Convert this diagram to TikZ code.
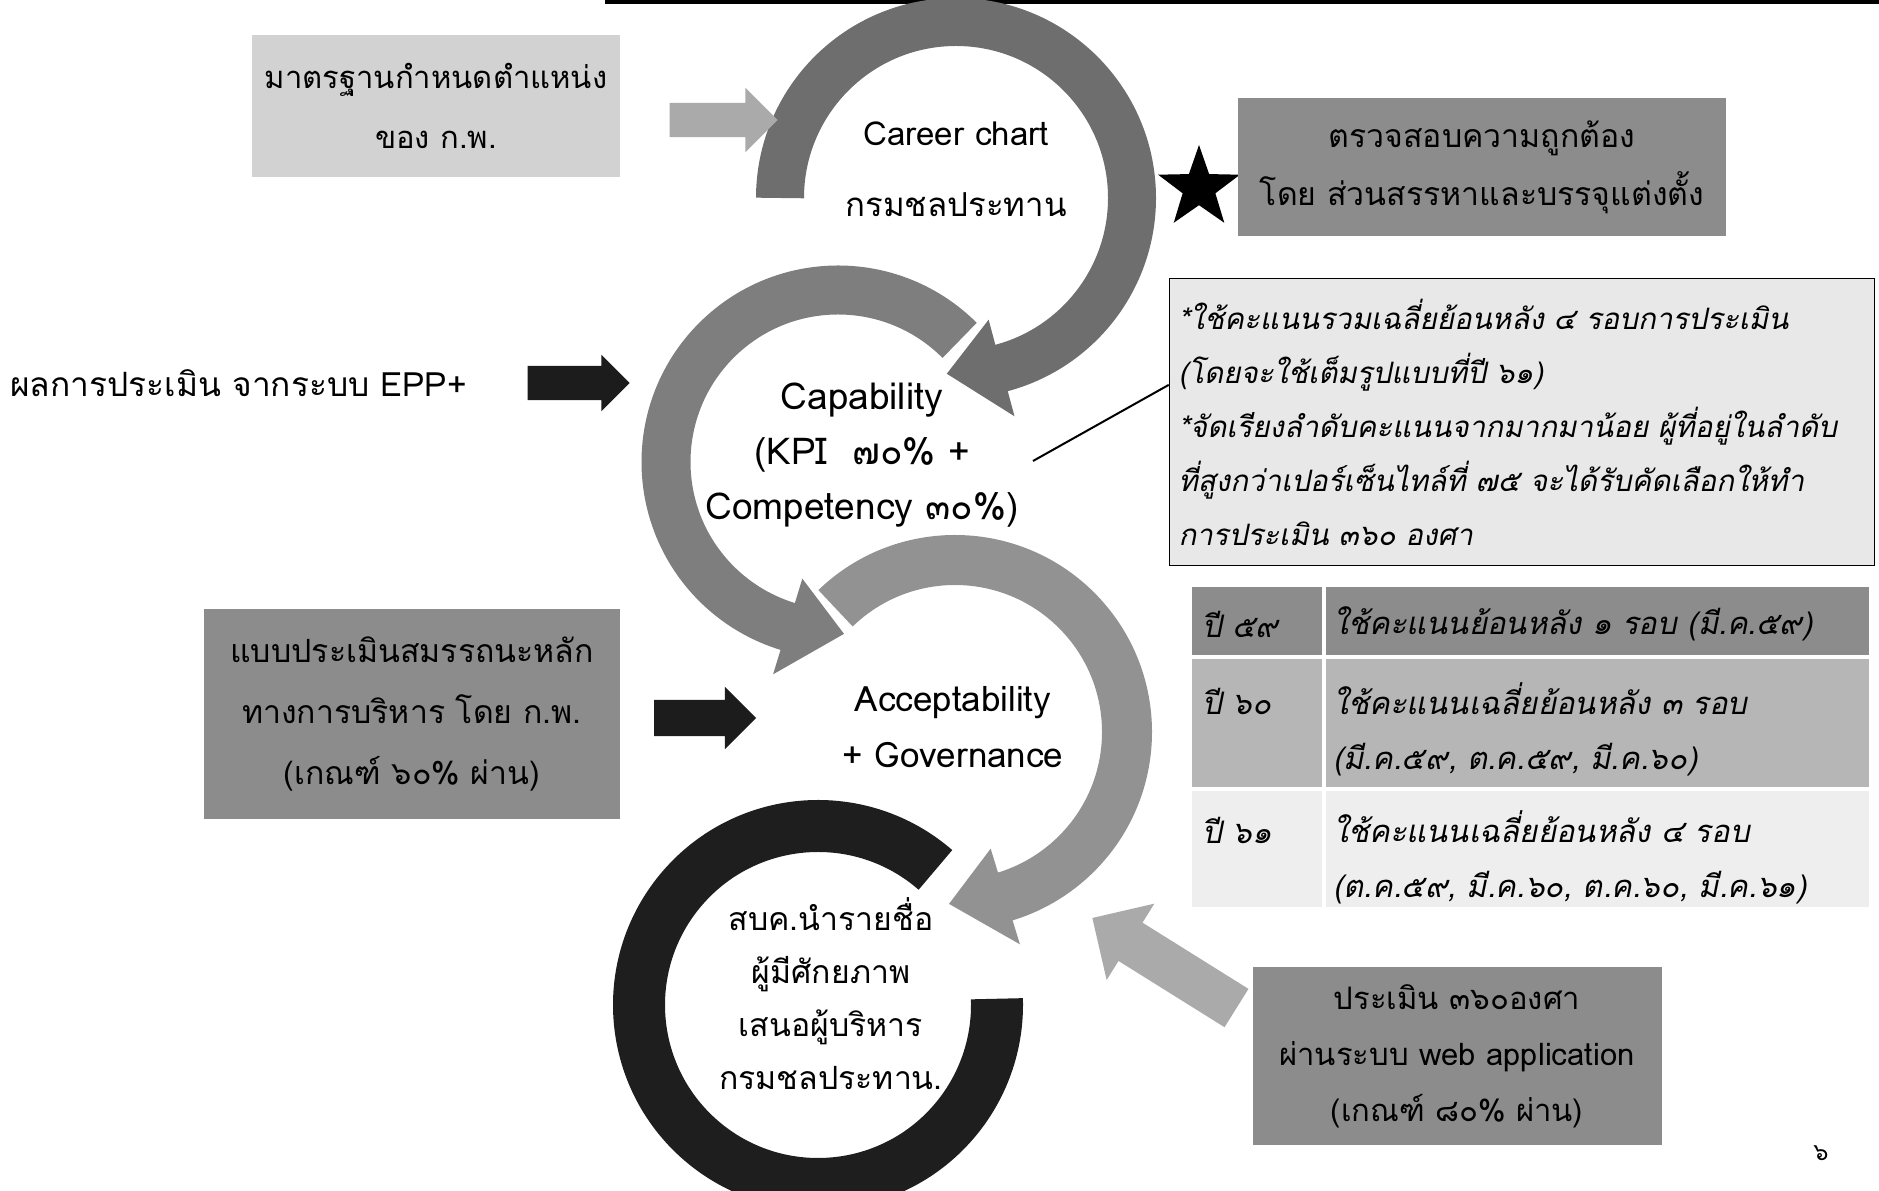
\documentclass[tikz,border=0pt]{standalone}
\usepackage{fontspec}
\usepackage{tikz}
\usetikzlibrary{shapes.geometric, shapes.arrows, positioning, calc}
\newfontfamily\thai[Script=Thai]{Loma}
\newfontfamily\thaiit[Script=Thai,FakeSlant=0.2]{Loma}
\definecolor{ringone}{HTML}{6E6E6E}
\definecolor{ringtwo}{HTML}{7E7E7E}
\definecolor{ringthree}{HTML}{929292}
\definecolor{ringfour}{HTML}{1E1E1E}
\definecolor{boxdark}{HTML}{8C8C8C}
\definecolor{boxmid}{HTML}{B6B6B6}
\definecolor{boxlight}{HTML}{D2D2D2}
\definecolor{boxpale}{HTML}{E8E8E8}
\definecolor{rowpale}{HTML}{EEEEEE}
\definecolor{arrowlight}{HTML}{AAAAAA}
\definecolor{arrowdark}{HTML}{1C1C1C}

\begin{document}
\begin{tikzpicture}[
    x=1pt, y=1pt,
    ring/.style={line width=50pt, color=#1},
    panel/.style={fill=#1, inner sep=0pt, align=center, font=\thai\fontsize{31}{60}\selectfont},
    cell/.style={fill=#1, inner sep=0pt},
    blockarrow/.style={single arrow, fill=#1, inner xsep=0pt, single arrow tip angle=90},
    circtext/.style={font=\thai\fontsize{33}{56}\selectfont, align=center, inner sep=0pt},
    tabtext/.style={font=\thaiit\fontsize{31}{55}\selectfont, align=left, inner sep=0pt, anchor=west}
]
\useasboundingbox (0,0) rectangle (1879,1191);

% Page rule
\draw[line width=4pt] (605,1189) -- (1879,1189);

% Circular arrows
\coordinate (o1) at (956,993);
\coordinate (o2) at (838,729);
\coordinate (o3) at (955,459);
\coordinate (o4) at (818,186);

\draw[ring=ringfour, line width=52pt, shift={(o4)}] (49:179) arc[start angle=49, end angle=362, radius=179pt];

\draw[ring=ringthree, shift={(o3)}] (134:172) arc[start angle=134, end angle=-74, radius=172pt];
\fill[ringthree, shift={(o3)}] (-73:122) -- (-92:172) -- (-73:222) -- cycle;

\draw[ring=ringtwo, line width=49pt, shift={(o2)}] (45:172) arc[start angle=45, end angle=254, radius=172pt];
\fill[ringtwo, shift={(o2)}] (253:122) -- (272:172) -- (253:222) -- cycle;

\draw[ring=ringone, line width=48pt, shift={(o1)}] (180:176) arc[start angle=180, end angle=-76, radius=176pt];
\fill[ringone, shift={(o1)}] (-75:126) -- (-93:176) -- (-75:226) -- cycle;

% Texts in the circles
\node[circtext] (career) at (956,1022) {Career chart\\[15pt]กรมชลประทาน};
\node[circtext, font=\thai\fontsize{37}{55}\selectfont] (capab) at (862,736) {Capability\\(KPI ~๗๐\% +\\Competency ๓๐\%)};
\node[circtext, font=\thai\fontsize{35}{56}\selectfont] (accept) at (953,464) {Acceptability\\+ Governance};
\node[circtext, font=\thai\fontsize{32}{53}\selectfont] (shortlist) at (831,197) {สบค.นำรายชื่อ\\ผู้มีศักยภาพ\\เสนอผู้บริหาร\\กรมชลประทาน.};

% Input boxes
\node[panel=boxlight, minimum width=368pt, minimum height=142pt] (kpstd) at (436,1085) {มาตรฐานกำหนดตำแหน่ง\\ของ ก.พ.};
\node[font=\thai\fontsize{33.5}{34}\selectfont, anchor=west, inner sep=0pt] (epp) at (10,808) {ผลการประเมิน จากระบบ EPP+};
\node[panel=boxdark, font=\thai\fontsize{32}{61}\selectfont, minimum width=416pt, minimum height=210pt] (core) at (412,477) {แบบประเมินสมรรถนะหลัก\\ทางการบริหาร โดย ก.พ.\\(เกณฑ์ ๖๐\% ผ่าน)};
\node[panel=boxdark, font=\thai\fontsize{31}{56}\selectfont, minimum width=409pt, minimum height=178pt] (web) at (1457,135) {ประเมิน ๓๖๐องศา\\ผ่านระบบ web application\\(เกณฑ์ ๘๐\% ผ่าน)};

% Block arrows
\node[blockarrow=arrowlight, inner ysep=17pt, minimum height=108pt, minimum width=64pt, single arrow head extend=15pt] (arrcareer) at (715,1071) {};
\node[blockarrow=arrowdark, inner ysep=17pt, minimum height=102pt, minimum width=56pt, single arrow head extend=11pt] (arrepp) at (570,808) {};
\node[blockarrow=arrowdark, inner ysep=18pt, minimum height=102pt, minimum width=62pt, single arrow head extend=13pt] (arrcore) at (696,473) {};
\node[blockarrow=arrowlight, inner ysep=22pt, rotate=148, minimum height=170pt, minimum width=90pt, single arrow head extend=22pt] (arrweb) at (1174,222) {};

% Check
\node[star, star points=5, star point ratio=2.5, fill=black, minimum size=86pt, inner sep=0pt] (star) at (1199,1003) {};
\node[panel=boxdark, font=\thai\fontsize{32}{58}\selectfont, minimum width=488pt, minimum height=138pt] (verify) at (1482,1024) {ตรวจสอบความถูกต้อง\\โดย ส่วนสรรหาและบรรจุแต่งตั้ง};

% Note on capability
\node[draw=black, line width=1.5pt, fill=boxpale, minimum width=705pt, minimum height=287pt, text width=687pt, inner xsep=9pt, align=left, font=\thaiit\fontsize{29.5}{54}\selectfont] (note) at (1522,769) {*ใช้คะแนนรวมเฉลี่ยย้อนหลัง ๔ รอบการประเมิน\\(โดยจะใช้เต็มรูปแบบที่ปี ๖๑)\\{*}จัดเรียงลำดับคะแนนจากมากมาน้อย ผู้ที่อยู่ในลำดับ\\ที่สูงกว่าเปอร์เซ็นไทล์ที่ ๗๕ จะได้รับคัดเลือกให้ทำ\\การประเมิน ๓๖๐ องศา};
\coordinate (kpiend) at (1033,730);
\draw[line width=2pt] (kpiend) -- (note.174);

% Table of years
\node[cell=boxdark, minimum width=130pt, minimum height=68pt] (y59) at (1257,570) {};
\node[cell=boxdark, minimum width=543pt, minimum height=68pt] (u59) at (1597.5,570) {};
\node[cell=boxmid, minimum width=130pt, minimum height=128pt] (y60) at (1257,468) {};
\node[cell=boxmid, minimum width=543pt, minimum height=128pt] (u60) at (1597.5,468) {};
\node[cell=rowpale, minimum width=130pt, minimum height=116pt] (y61) at (1257,342) {};
\node[cell=rowpale, minimum width=543pt, minimum height=116pt] (u61) at (1597.5,342) {};

\node[tabtext] (t59) at (1202,567) {ปี ๕๙};
\node[tabtext] (s59) at (1333,567) {ใช้คะแนนย้อนหลัง ๑ รอบ (มี.ค.๕๙)};
\node[tabtext] (t60) at (1202,490) {ปี ๖๐};
\node[tabtext] (s60) at (1333,462) {ใช้คะแนนเฉลี่ยย้อนหลัง ๓ รอบ\\(มี.ค.๕๙, ต.ค.๕๙, มี.ค.๖๐)};
\node[tabtext] (t61) at (1202,361) {ปี ๖๑};
\node[tabtext] (s61) at (1333,334) {ใช้คะแนนเฉลี่ยย้อนหลัง ๔ รอบ\\(ต.ค.๕๙, มี.ค.๖๐, ต.ค.๖๐, มี.ค.๖๑)};

% Page number
\node[font=\thai\fontsize{24}{24}\selectfont, inner sep=0pt] (pageno) at (1821,38) {๖};

\end{tikzpicture}
\end{document}
